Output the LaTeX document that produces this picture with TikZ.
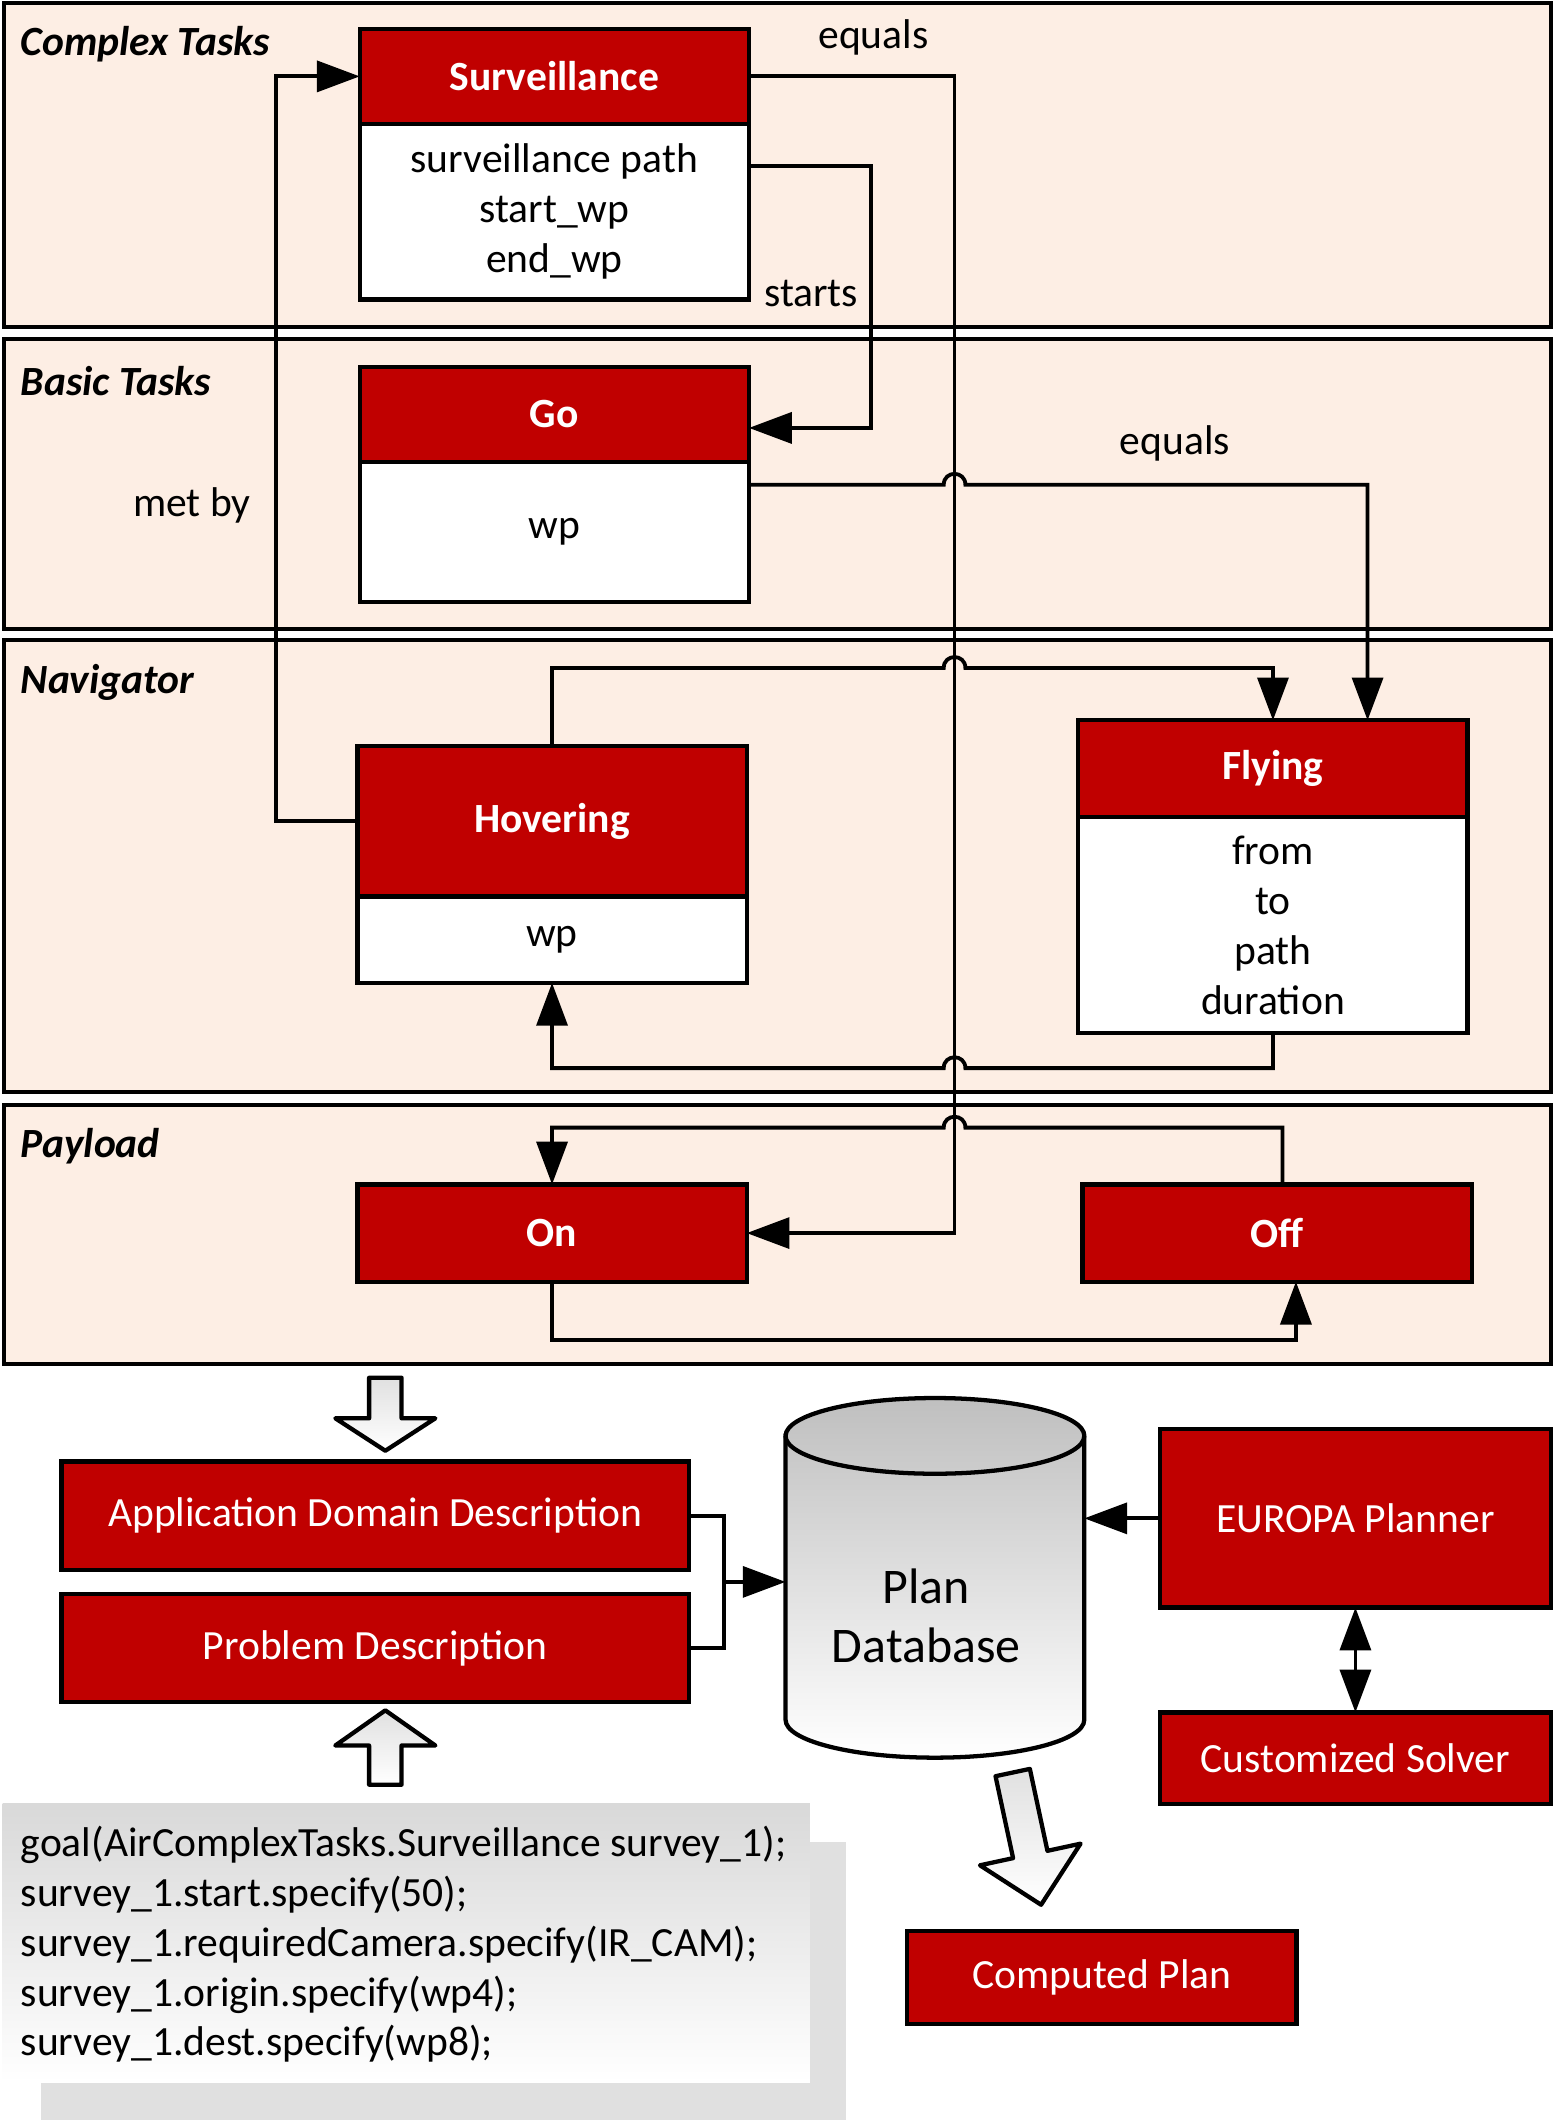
\documentclass[tikz,border=0pt]{standalone}
\usepackage{fontspec}
\setmainfont{Carlito}
\usepackage{tikz}
\usetikzlibrary{positioning,arrows.meta}
\definecolor{lanefill}{RGB}{253,238,228}
\definecolor{hdred}{RGB}{192,0,0}

\begin{document}
\begin{tikzpicture}[x=0.02cm,y=-0.02cm,
    txt/.style={font=\fontsize{17.5}{21}\selectfont,inner sep=0pt},
    lane/.style={draw,line width=1.7pt,fill=lanefill},
    lanename/.style={font=\fontsize{17.5}{21}\selectfont\bfseries\itshape,anchor=west,inner sep=0pt},
    hdr/.style={draw,line width=1.8pt,fill=hdred,text=white,outer sep=0pt,minimum width=5.76cm,font=\fontsize{17.5}{21}\selectfont\bfseries},
    attr/.style={draw,line width=1.8pt,fill=white,outer sep=0pt,minimum width=5.76cm,align=center,font=\fontsize{17.5}{21}\selectfont},
    redbox/.style={draw,line width=1.8pt,fill=hdred,text=white,outer sep=0pt,font=\fontsize{17.5}{21}\selectfont},
    conn/.style={line width=1.6pt},
    headarrow/.style={-{Triangle[length=18pt,width=13pt]}},
    bothtips/.style={{Triangle[length=18pt,width=13pt]}-{Triangle[length=18pt,width=13pt]}},
    hollow/.style={draw,line width=1.8pt,line join=round,top color=black!12,bottom color=white}]
        \useasboundingbox (0,0) rectangle (1149,1568);
        % lanes
        \draw[lane] (3,2) rectangle (1147,242);
        \draw[lane] (3,251) rectangle (1147,465);
        \draw[lane] (3,473.5) rectangle (1147,808);
        \draw[lane] (3,817.5) rectangle (1147,1008.5);
        \node[lanename] (complex) at (15,33) {Complex Tasks};
        \node[lanename] (basic) at (15,282) {Basic Tasks};
        \node[lanename] (navigator) at (15,505) {Navigator};
        \node[lanename] (payload) at (15,848) {Payload};
        % tokens
        \node[hdr,minimum height=1.4cm] (surv) at (410,56.5) {Surveillance};
        \node[attr,minimum height=2.6cm,below=0pt of surv] (survbody) {surveillance path\\start\_wp\\end\_wp};
        \node[hdr,minimum height=1.4cm] (go) at (410,306.5) {Go};
        \node[attr,minimum height=2.08cm,below=0pt of go] (gobody) {wp};
        \node[hdr,minimum height=2.22cm] (hover) at (408.3,607.5) {Hovering};
        \node[attr,minimum height=1.28cm,below=0pt of hover] (hoverbody) {wp};
        \node[hdr,minimum height=1.43cm] (flying) at (941.5,568.5) {Flying};
        \node[attr,minimum height=3.2cm,below=0pt of flying] (flyingbody) {from\\to\\path\\duration};
        \node[hdr,minimum height=1.44cm] (on) at (408.3,912) {On};
        \node[hdr,minimum height=1.44cm] (off) at (944.5,912) {Off};
        % relations
        \node[txt] (metby) at (142,374) {met by};
        \node[txt] (eqtop) at (646,28) {equals};
        \node[txt] (starts) at (600,217) {starts};
        \node[txt] (eqgo) at (869,328) {equals};
        \draw[conn,headarrow] (hover.west) -- ++(-60,0) |- (surv.west);
        \draw[conn,headarrow] (surv.east) -- ++(152,0) |- (on.east);
        \draw[conn,headarrow] ([yshift=0.68cm]survbody.east) -- ++(90,0) |- ([yshift=-0.2cm]go.east);
        \draw[conn,headarrow] ([yshift=0.7cm]gobody.east) -- (698,358.5) .. controls (698,347.8) and (714,347.8) .. (714,358.5) -| ([xshift=1.4cm]flying.north);
        \draw[conn,headarrow] (hover.north) |- (698,494) .. controls (698,483.3) and (714,483.3) .. (714,494) -| (flying.north);
        \draw[conn,headarrow] (flyingbody.south) |- (714,790) .. controls (714,779.3) and (698,779.3) .. (698,790) -| (hoverbody.south);
        \draw[conn,headarrow] ([xshift=0.08cm]off.north) |- (714,834) .. controls (714,823.3) and (698,823.3) .. (698,834) -| (on.north);
        \draw[conn,headarrow] (on.south) -- ++(0,43) -| ([xshift=0.28cm]off.south);
        % planner
        \draw[hollow] (273,1019) -- (297,1019) -- (297,1049) -- (322,1049) -- (285,1073) -- (248,1049) -- (273,1049) -- cycle;
        \draw[hollow] (285,1265) -- (322,1291) -- (297,1291) -- (297,1320) -- (273,1320) -- (273,1291) -- (248,1291) -- cycle;
        \draw[hollow] (736.3,1313.7) -- (761.7,1308.3) -- (774.7,1368.9) -- (799.2,1363.6) -- (770,1408.8) -- (724.8,1379.6) -- (749.3,1374.3) -- cycle;
        \node[redbox,minimum width=9.28cm,minimum height=1.6cm] (app) at (277.5,1121) {Application Domain Description};
        \node[redbox,minimum width=9.28cm,minimum height=1.6cm] (prob) at (277.5,1219) {Problem Description};
        \node[redbox,minimum width=5.78cm,minimum height=2.64cm] (europa) at (1002.5,1123) {EUROPA Planner};
        \node[redbox,minimum width=5.78cm,minimum height=1.36cm] (solver) at (1002.5,1300.5) {Customized Solver};
        \node[redbox,minimum width=5.76cm,minimum height=1.38cm] (computed) at (815,1462.5) {Computed Plan};
        \shade[top color=black!25,bottom color=white,draw,line width=1.8pt] (581,1062) -- (581,1272) arc[start angle=180,end angle=360,x radius=2.21cm,y radius=0.56cm] -- (802,1062) arc[start angle=0,end angle=180,x radius=2.21cm,y radius=0.56cm] -- cycle;
        \draw[line width=1.8pt] (581,1062) arc[start angle=180,end angle=360,x radius=2.21cm,y radius=0.56cm];
        \node[minimum width=4.42cm,minimum height=5.32cm,outer sep=0pt] (db) at (691.5,1167) {};
        \node[font=\fontsize{21}{25}\selectfont,align=center,inner sep=0pt] (dbtext) at (685,1195) {Plan\\Database};
        \draw[conn] (app.east) -- ++(26,0) |- (prob.east);
        \coordinate (join) at (535.5,1170);
        \draw[conn,headarrow] (join) -- (join -| db.west);
        \draw[conn,headarrow] (europa.west) -- (europa.west -| db.east);
        \draw[conn,bothtips] (europa.south) -- (solver.north);
        % goal script
        \fill[black!12] (30,1362) rectangle (626,1568);
        \shade[top color=black!15,bottom color=white] (2,1334) rectangle (599,1540);
        \node[txt,anchor=west,align=left] (code) at (15,1438) {goal(AirComplexTasks.Surveillance survey\_1);\\survey\_1.start.specify(50);\\survey\_1.requiredCamera.specify(IR\_CAM);\\survey\_1.origin.specify(wp4);\\survey\_1.dest.specify(wp8);};
      \end{tikzpicture}
\end{document}
